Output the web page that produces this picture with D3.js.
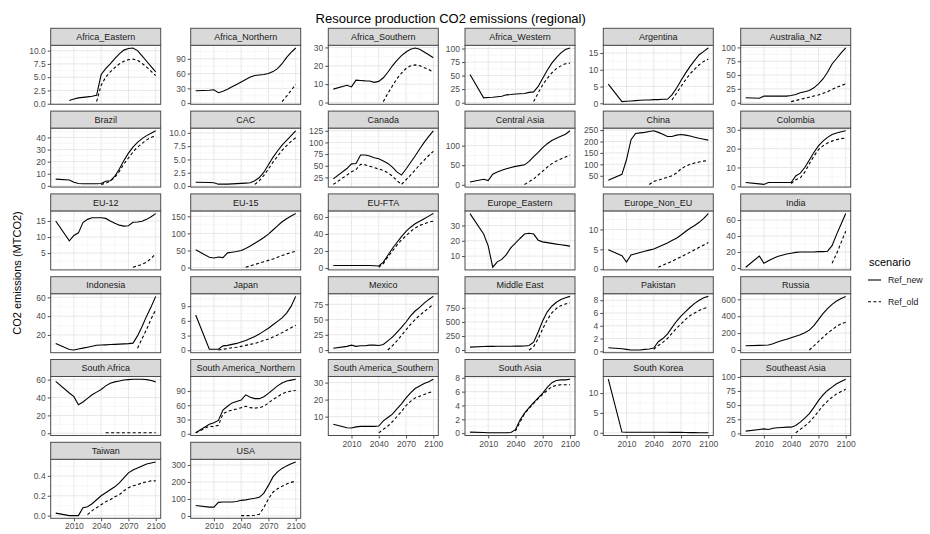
<!DOCTYPE html>
<html>
<head>
<meta charset="utf-8">
<script src="https://cdn.jsdelivr.net/npm/d3@7"></script>
<style>
  body { margin: 0; background: #fff; }
  text { font-family: "Liberation Sans", Arial, Helvetica, sans-serif; }
</style>
</head>
<body>
<svg id="chart" width="930" height="534"></svg>
<script>
const _ = null;

// Model years shared by every series
const years = [1990, 2005, 2010, 2015, 2020, 2025, 2030, 2035, 2040, 2045, 2050,
               2055, 2060, 2065, 2070, 2075, 2080, 2085, 2090, 2095, 2100];

const regions = ["Africa_Eastern", "Africa_Northern", "Africa_Southern", "Africa_Western", "Argentina", "Australia_NZ",
                 "Brazil", "CAC", "Canada", "Central Asia", "China", "Colombia",
                 "EU-12", "EU-15", "EU-FTA", "Europe_Eastern", "Europe_Non_EU", "India",
                 "Indonesia", "Japan", "Mexico", "Middle East", "Pakistan", "Russia",
                 "South Africa", "South America_Northern", "South America_Southern", "South Asia", "South Korea", "Southeast Asia",
                 "Taiwan", "USA"];

const scenarios = ["Ref_new", "Ref_old"];
const xTicks = [2010, 2040, 2070, 2100];

// y-axis tick labels, one list per region
const yTicks = [
  [0, 2.5, 5, 7.5, 10], [0, 30, 60, 90], [0, 10, 20, 30], [0, 25, 50, 75, 100], [0, 5, 10, 15], [0, 25, 50, 75, 100],
  [0, 10, 20, 30, 40], [0, 2.5, 5, 7.5, 10], [25, 50, 75, 100, 125], [0, 50, 100], [50, 100, 150, 200, 250], [0, 10, 20, 30],
  [5, 10, 15], [0, 50, 100, 150], [0, 20, 40, 60], [10, 20, 30], [0, 5, 10], [0, 20, 40, 60],
  [20, 40, 60], [0, 3, 6, 9], [0, 25, 50, 75], [0, 250, 500, 750], [0, 2, 4, 6, 8], [0, 200, 400, 600],
  [0, 20, 40, 60], [0, 30, 60, 90], [10, 20, 30], [0, 2, 4, 6, 8], [0, 5, 10], [0, 25, 50, 75, 100],
  [0.0, 0.2, 0.4], [0, 100, 200, 300]
];
// decimals shown on each region's y labels
const yDecimals = [1,0,0,0,0,0, 0,1,0,0,0,0, 0,0,0,0,0,0, 0,0,0,0,0,0, 0,0,0,0,0,0, 1,0];

// Ref_new emissions (MTCO2) by region
const newAfricaEastern   = [_, 0.6, 0.9, 1.1, 1.2, 1.3, 1.4, 1.6, 5.5, 6.6, 7.5, 8.5, 9.4, 10.1, 10.4, 10.5, 10.0, 9.0, 8.0, 7.0, 6.0];
const newAfricaNorthern  = [25, 26, 27, 21, 24, 28, 33, 38, 43, 48, 53, 56, 57, 58, 60, 64, 70, 80, 93, 103, 112];
const newAfricaSouthern  = [7.3, 9.4, 8.5, 12.2, 12.0, 11.8, 11.7, 11.0, 11.5, 13.5, 16.5, 20, 23, 25.5, 27.5, 29, 29.7, 29, 27.5, 26, 24.4];
const newAfricaWestern   = [52, 9, 9.5, 10, 11, 12, 14.5, 15, 16, 16.5, 17, 19, 20, 30, 45, 60, 73, 83, 92, 98, 101];
const newArgentina       = [5.7, 0.5, 0.6, 0.7, 0.8, 0.9, 1.0, 1.0, 1.1, 1.1, 1.2, 1.2, 2.5, 4.5, 6.8, 9, 11, 12.8, 14.5, 15.5, 16.5];
const newAustraliaNZ     = [9, 8, 12, 12, 12, 12, 12, 12, 13, 15, 18, 20, 22, 27, 34, 43, 55, 70, 80, 90, 99];
const newBrazil          = [5.6, 4.9, 3.0, 2.0, 1.8, 1.8, 1.8, 1.8, 1.9, 3.8, 4.2, 8, 14, 21, 27, 32, 36, 39, 41.5, 43.5, 45.5];
const newCAC             = [0.7, 0.65, 0.6, 0.35, 0.35, 0.35, 0.4, 0.45, 0.5, 0.55, 0.6, 1.0, 1.6, 2.6, 4.0, 5.4, 6.6, 7.7, 8.6, 9.5, 10.4];
const newCanada          = [22, 44, 54, 55, 73, 73, 71, 67, 65, 60, 55, 47, 37, 30, 43, 57, 71, 86, 100, 113, 125];
const newCentralAsia     = [7, 14, 11, 27, 33, 37, 41, 44, 47, 49, 51, 60, 72, 83, 95, 105, 113, 119, 124, 129, 138];
const newChina           = [30, 56, 120, 208, 235, 238, 240, 244, 247, 240, 232, 222, 222, 228, 231, 228, 224, 219, 214, 210, 206];
const newColombia        = [2, 1.3, 1.0, 2, 2, 2, 2, 2, 2, 5.5, 7, 10, 14, 18, 21.5, 24, 26, 27.5, 28.3, 29, 29.5];
const newEU12            = [15, 8.8, 10.5, 11.3, 14.5, 15.5, 16, 16, 16, 15.8, 15, 14.3, 13.7, 13.4, 13.5, 14.6, 14.7, 14.9, 15.5, 16.3, 17.3];
const newEU15            = [52, 30, 28, 31, 29, 43, 45, 47, 50, 56, 63, 71, 79, 88, 98, 110, 122, 134, 143, 151, 158];
const newEUFTA           = [3, 3, 3, 3, 3, 3, 3, 2.8, 2.5, 7, 15, 23, 30, 37, 43, 48, 52, 55, 58, 61, 64];
const newEuropeEastern   = [37.8, 24.4, 16.7, 2.7, 6.2, 7.8, 11, 15.5, 18.4, 21.5, 24.4, 24.9, 24.4, 20.4, 19.3, 18.8, 18.3, 17.8, 17.4, 17, 16.5];
const newEuropeNonEU     = [4.9, 3.4, 1.8, 3.6, 3.9, 4.2, 4.5, 4.8, 5.1, 5.6, 6.1, 6.6, 7.2, 7.8, 8.6, 9.5, 10.3, 11.0, 11.8, 12.8, 14.0];
const newIndia           = [1, 15, 6, 9, 12, 14.5, 16, 17.5, 18.5, 19.5, 20, 20, 20, 20, 20.5, 20.5, 21, 28, 42, 55, 68];
const newIndonesia       = [11, 4.5, 4, 5, 6, 7, 8, 9, 9.3, 9.5, 9.8, 10, 10.3, 10.5, 10.8, 11.3, 19, 29, 40, 50, 61];
const newJapan           = [7.2, 0.2, 0.2, 0.2, 0.9, 1.0, 1.2, 1.4, 1.7, 2.0, 2.4, 2.8, 3.3, 3.9, 4.5, 5.2, 5.9, 6.6, 7.6, 9.0, 11];
const newMexico          = [3, 6, 8, 6, 7, 7, 8, 8, 7.5, 9, 15, 21, 29, 37, 46, 56, 64, 70, 77, 83, 88];
const newMiddleEast      = [52, 62, 64, 65, 66, 66, 67, 68, 70, 70, 72, 80, 140, 320, 520, 680, 780, 850, 900, 930, 955];
const newPakistan        = [0.55, 0.4, 0.3, 0.2, 0.2, 0.2, 0.3, 0.35, 0.5, 1.5, 2.0, 2.7, 3.7, 4.7, 5.5, 6.2, 6.9, 7.5, 8.0, 8.4, 8.6];
const newRussia          = [50, 55, 57, 60, 75, 95, 112, 128, 145, 162, 180, 205, 235, 290, 360, 430, 490, 540, 580, 610, 635];
const newSouthAfrica     = [58, 45, 41, 32, 35, 39, 43, 46, 49, 53, 56, 57.5, 58.5, 59.5, 60, 60.5, 60.5, 60.5, 60, 59, 57.5];
const newSAmNorthern     = [2, 20, 23, 28, 50, 58, 65, 68, 71, 82, 77, 74, 74, 78, 85, 93, 101, 107, 111, 113, 115];
const newSAmSouthern     = [5.5, 3.5, 3.3, 4.0, 4.3, 4.3, 4.3, 4.3, 4.5, 7.5, 9.5, 11.5, 14.5, 17.5, 21, 24, 26.5, 28, 29.5, 30.5, 32];
const newSouthAsia       = [0.15, 0.1, 0.05, 0.05, 0.05, 0.05, 0.05, 0.1, 0.5, 1.9, 2.9, 3.7, 4.4, 5.1, 5.8, 6.6, 7.3, 7.6, 7.7, 7.7, 7.8];
const newSouthKorea      = [13.5, 0.2, 0.15, 0.15, 0.15, 0.15, 0.15, 0.15, 0.15, 0.15, 0.15, 0.15, 0.12, 0.1, 0.1, 0.08, 0.05, 0.05, 0.03, 0.02, 0.0];
const newSoutheastAsia   = [4, 7, 8, 7, 9, 10, 10.5, 11, 11, 14, 20, 27, 35, 46, 58, 68, 76, 82, 88, 92, 96];
const newTaiwan          = [0.025, 0.0, 0.0, 0.0, 0.08, 0.09, 0.12, 0.16, 0.2, 0.23, 0.26, 0.29, 0.33, 0.38, 0.43, 0.46, 0.48, 0.5, 0.52, 0.53, 0.54];
const newUSA             = [62, 52, 52, 80, 82, 82, 82, 85, 92, 95, 100, 104, 110, 135, 180, 230, 260, 280, 295, 308, 318];

// Ref_old emissions (MTCO2) by region (null where the run has no value)
const oldAfricaEastern   = [_, _, _, _, _, _, _, 0.4, 3.5, 5.0, 6.0, 6.8, 7.5, 8.0, 8.3, 8.4, 8.2, 7.6, 6.9, 6.1, 5.3];
const oldAfricaNorthern  = [_, _, _, _, _, _, _, _, _, _, _, _, _, _, _, _, _, 3, 14, 26, 38];
const oldAfricaSouthern  = [_, _, _, _, _, _, _, _, _, 0.5, 5, 9, 13, 16, 18.5, 20, 20.5, 20, 19, 18, 16.5];
const oldAfricaWestern   = [_, _, _, _, _, _, _, _, _, _, _, _, 2, 18, 33, 45, 55, 63, 68, 72, 73];
const oldArgentina       = [_, _, _, _, _, _, _, _, _, _, _, _, 1, 3, 5, 7, 8.8, 10.2, 11.5, 12.5, 13.2];
const oldAustraliaNZ     = [_, _, _, _, _, _, _, _, 2, 4, 6, 8, 10, 12, 14, 17, 20, 24, 28, 31, 34];
const oldBrazil          = [_, _, _, _, _, _, _, _, 1.2, 2.2, 4, 7, 12, 18, 23, 28, 32, 35, 38, 40, 41.5];
const oldCAC             = [_, _, _, _, _, _, _, _, _, _, _, 0.3, 1.0, 2.0, 3.2, 4.5, 5.6, 6.7, 7.6, 8.4, 9.1];
const oldCanada          = [10, 30, 37, 42, 53, 52, 49, 46, 43, 40, 35, 28, 18, 10, 20, 30, 41, 52, 62, 72, 81];
const oldCentralAsia     = [_, _, _, _, _, _, _, _, _, _, 1, 8, 15, 25, 35, 45, 54, 61, 66, 71, 76];
const oldChina           = [_, _, _, _, _, _, _, 12, 25, 31, 37, 43, 50, 62, 80, 92, 100, 106, 110, 114, 118];
const oldColombia        = [_, _, _, _, _, _, _, _, 1.5, 3.5, 4.5, 7.5, 12, 16, 19.5, 21.5, 23, 24, 24.8, 25.3, 25.7];
const oldEU12            = [_, _, _, _, _, _, _, _, _, _, _, _, _, _, _, 0.6, 1.0, 1.5, 2.2, 3.3, 4.8];
const oldEU15            = [_, _, _, _, _, _, _, _, _, 1, 5, 9, 13, 17, 21, 25, 30, 35, 40, 44, 48];
const oldEUFTA           = [_, _, _, _, _, _, _, _, 1, 5, 13, 20, 27, 33, 38, 43, 47, 50, 52, 54, 55];
const oldEuropeEastern   = [];
const oldEuropeNonEU     = [_, _, _, _, _, _, _, _, _, 0.5, 1.0, 1.5, 2.0, 2.6, 3.1, 3.7, 4.3, 4.9, 5.5, 6.1, 6.7];
const oldIndia           = [_, _, _, _, _, _, _, _, _, _, _, _, _, _, _, _, _, 6, 18, 32, 46];
const oldIndonesia       = [_, _, _, _, _, _, _, _, _, _, _, _, _, _, _, _, 6, 16, 26, 37, 47];
const oldJapan           = [_, _, _, 0.05, 0.2, 0.35, 0.5, 0.6, 0.8, 1.0, 1.2, 1.4, 1.7, 2.0, 2.3, 2.7, 3.1, 3.6, 4.1, 4.6, 5.1];
const oldMexico          = [_, _, _, _, _, _, _, _, _, _, 0, 7, 15, 24, 33, 42, 50, 57, 63, 69, 75];
const oldMiddleEast      = [_, _, _, _, _, _, _, _, _, _, _, 0, 60, 200, 380, 540, 660, 740, 790, 820, 840];
const oldPakistan        = [_, _, _, _, _, _, _, _, 0.3, 0.9, 1.4, 2.0, 2.8, 3.6, 4.3, 5.0, 5.6, 6.0, 6.4, 6.7, 6.9];
const oldRussia          = [_, _, _, _, _, _, _, _, _, _, _, _, 0, 50, 100, 150, 200, 240, 280, 310, 330];
const oldSouthAfrica     = [_, _, _, _, _, _, _, _, _, 0.5, 0.5, 0.5, 0.5, 0.5, 0.5, 0.5, 0.5, 0.5, 0.5, 0.5, 0.5];
const oldSAmNorthern     = [2, 16, 15, 18, 42, 47, 50, 52, 55, 58, 55, 54, 55, 58, 65, 72, 78, 84, 88, 90, 91];
const oldSAmSouthern     = [_, _, _, _, _, _, _, _, 0.5, 2.5, 4.5, 7, 10, 13, 16.5, 19, 21, 22, 23, 24, 25];
const oldSouthAsia       = [_, _, _, _, _, _, _, _, 0.3, 1.6, 2.8, 3.6, 4.3, 5.0, 5.6, 6.2, 6.7, 6.9, 7.0, 7.0, 7.0];
const oldSouthKorea      = [];
const oldSoutheastAsia   = [_, _, _, _, _, _, _, _, _, 1, 7, 13, 20, 29, 39, 49, 57, 64, 70, 74, 78];
const oldTaiwan          = [_, _, _, _, _, 0.01, 0.05, 0.08, 0.11, 0.14, 0.16, 0.19, 0.21, 0.25, 0.28, 0.30, 0.31, 0.33, 0.34, 0.35, 0.35];
const oldUSA             = [_, _, _, _, _, _, _, _, 2, 2, 2, 5, 10, 50, 100, 140, 160, 175, 188, 198, 205];

const refNew = [newAfricaEastern, newAfricaNorthern, newAfricaSouthern, newAfricaWestern, newArgentina, newAustraliaNZ,
  newBrazil, newCAC, newCanada, newCentralAsia, newChina, newColombia,
  newEU12, newEU15, newEUFTA, newEuropeEastern, newEuropeNonEU, newIndia,
  newIndonesia, newJapan, newMexico, newMiddleEast, newPakistan, newRussia,
  newSouthAfrica, newSAmNorthern, newSAmSouthern, newSouthAsia, newSouthKorea, newSoutheastAsia,
  newTaiwan, newUSA];
const refOld = [oldAfricaEastern, oldAfricaNorthern, oldAfricaSouthern, oldAfricaWestern, oldArgentina, oldAustraliaNZ,
  oldBrazil, oldCAC, oldCanada, oldCentralAsia, oldChina, oldColombia,
  oldEU12, oldEU15, oldEUFTA, oldEuropeEastern, oldEuropeNonEU, oldIndia,
  oldIndonesia, oldJapan, oldMexico, oldMiddleEast, oldPakistan, oldRussia,
  oldSouthAfrica, oldSAmNorthern, oldSAmSouthern, oldSouthAsia, oldSouthKorea, oldSoutheastAsia,
  oldTaiwan, oldUSA];

// ---- layout ----
const svg = d3.select("#chart");
const nCol = 6;
const colLeft = [50.7, 190.7, 328.3, 465, 603.3, 740.7];
const panelW = 110, stripH = 17, panelH = 59;
const rowTop0 = 28.3, rowPitch = 82.8;
const expand = (lo, hi, f) => { const d = (hi - lo) * f; return [lo - d, hi + d]; };

const xDomain = expand(d3.min(years), d3.max(years), 0.05);
const xMinor = [1995, 2025, 2055, 2085];

const dashes = { Ref_new: null, Ref_old: "3,2.4" };

regions.forEach((name, i) => {
  const col = i % nCol, row = Math.floor(i / nCol);
  const left = colLeft[col];
  const top = rowTop0 + row * rowPitch;
  const pTop = top + stripH, pBot = pTop + panelH;

  const x = d3.scaleLinear().domain(xDomain).range([left, left + panelW]);
  const series = [refNew[i], refOld[i]];
  const vals = series.flat().filter(v => v != null);
  const y = d3.scaleLinear().domain(expand(d3.min(vals), d3.max(vals), 0.05)).range([pBot, pTop]);

  const g = svg.append("g").attr("class", "panel");

  g.append("rect").attr("x", left).attr("y", pTop).attr("width", panelW).attr("height", panelH).attr("fill", "#fff");

  // minor grid
  const ticks = yTicks[i];
  const step = ticks.length > 1 ? ticks[1] - ticks[0] : 1;
  const yMinor = [ticks[0] - step / 2].concat(ticks.map(t => t + step / 2))
    .filter(v => v >= y.domain()[0] && v <= y.domain()[1]);
  g.selectAll(null).data(yMinor).join("line")
    .attr("x1", left).attr("x2", left + panelW)
    .attr("y1", d => y(d)).attr("y2", d => y(d))
    .attr("stroke", "#f2f2f2").attr("stroke-width", 0.6);
  g.selectAll(null).data(xMinor).join("line")
    .attr("x1", d => x(d)).attr("x2", d => x(d))
    .attr("y1", pTop).attr("y2", pBot)
    .attr("stroke", "#f2f2f2").attr("stroke-width", 0.6);
  // major grid
  g.selectAll(null).data(ticks.filter(v => v >= y.domain()[0] && v <= y.domain()[1])).join("line")
    .attr("x1", left).attr("x2", left + panelW)
    .attr("y1", d => y(d)).attr("y2", d => y(d))
    .attr("stroke", "#e8e8e8").attr("stroke-width", 1);
  g.selectAll(null).data(xTicks).join("line")
    .attr("x1", d => x(d)).attr("x2", d => x(d))
    .attr("y1", pTop).attr("y2", pBot)
    .attr("stroke", "#e8e8e8").attr("stroke-width", 1);

  // series lines
  scenarios.forEach((sc, k) => {
    const pts = years.map((yr, j) => [yr, series[k][j]]).filter(p => p[1] != null);
    if (!pts.length) return;
    g.append("path")
      .datum(pts)
      .attr("fill", "none")
      .attr("stroke", "#000")
      .attr("stroke-width", 1.1)
      .attr("stroke-dasharray", dashes[sc])
      .attr("d", d3.line().x(d => x(d[0])).y(d => y(d[1])));
  });

  // panel border
  g.append("rect").attr("x", left).attr("y", pTop).attr("width", panelW).attr("height", panelH)
    .attr("fill", "none").attr("stroke", "#4d4d4d").attr("stroke-width", 1);

  // strip
  g.append("rect").attr("x", left).attr("y", top).attr("width", panelW).attr("height", stripH)
    .attr("fill", "#d9d9d9").attr("stroke", "#4d4d4d").attr("stroke-width", 1);
  g.append("text").attr("x", left + panelW / 2).attr("y", top + stripH / 2)
    .attr("dy", "0.35em").attr("text-anchor", "middle")
    .attr("font-size", 9).attr("fill", "#1a1a1a").text(name);

  // y axis
  const ya = g.append("g").attr("transform", `translate(${left},0)`)
    .call(d3.axisLeft(y).tickValues(ticks).tickSize(3).tickPadding(2)
      .tickFormat(d3.format(`.${yDecimals[i]}f`)));
  ya.select(".domain").remove();
  ya.selectAll(".tick line").attr("stroke", "#4d4d4d");
  ya.selectAll(".tick text").attr("font-size", 8.5).attr("fill", "#4d4d4d")
    .attr("font-family", "Liberation Sans, Arial, sans-serif");

  // x axis on the lowest panel of each column
  if (i + nCol >= regions.length) {
    const xa = g.append("g").attr("transform", `translate(0,${pBot})`)
      .call(d3.axisBottom(x).tickValues(xTicks).tickSize(3).tickPadding(2).tickFormat(d3.format("d")));
    xa.select(".domain").remove();
    xa.selectAll(".tick line").attr("stroke", "#4d4d4d");
    xa.selectAll(".tick text").attr("font-size", 8.5).attr("fill", "#4d4d4d")
      .attr("font-family", "Liberation Sans, Arial, sans-serif");
  }
});

// title
svg.append("text").attr("x", 450.7).attr("y", 22.5).attr("text-anchor", "middle")
  .attr("font-size", 13).attr("fill", "#000").text("Resource production CO2 emissions (regional)");

// y-axis title
svg.append("text").attr("transform", "translate(21,273) rotate(-90)").attr("text-anchor", "middle")
  .attr("font-size", 11).attr("fill", "#000").text("CO2 emissions (MTCO2)");

// legend
const lg = svg.append("g").attr("class", "legend");
lg.append("text").attr("x", 869).attr("y", 265.5).attr("font-size", 11).attr("fill", "#000").text("scenario");
scenarios.forEach((sc, k) => {
  const yy = 280 + k * 21.7;
  lg.append("line").attr("x1", 868).attr("x2", 881).attr("y1", yy).attr("y2", yy)
    .attr("stroke", "#000").attr("stroke-width", 1.1).attr("stroke-dasharray", dashes[sc]);
  lg.append("text").attr("x", 888).attr("y", yy).attr("dy", "0.35em")
    .attr("font-size", 8.8).attr("fill", "#1a1a1a").text(sc);
});
</script>
</body>
</html>
